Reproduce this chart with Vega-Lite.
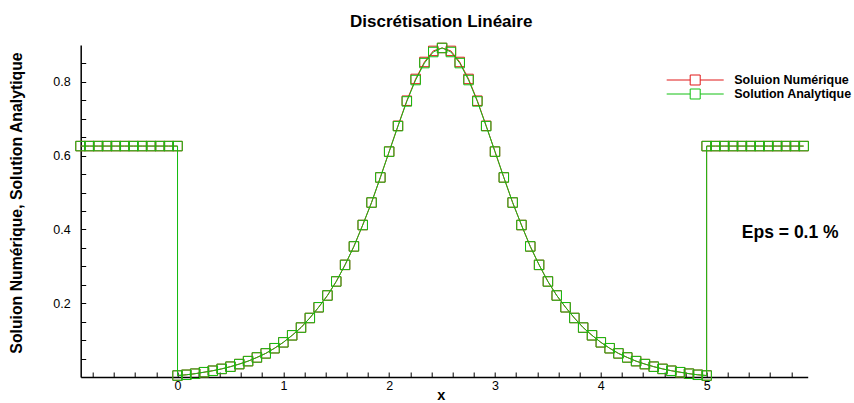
{
  "$schema": "https://vega.github.io/schema/vega-lite/v6.json",
  "width": 727,
  "height": 332,
  "autosize": {"type": "none"},
  "padding": {"left": 80.7, "top": 45, "right": 46.3, "bottom": 26},
  "background": "white",
  "title": {"text": "Discrétisation Linéaire", "font": "Liberation Sans", "fontSize": 17, "fontWeight": "bold", "color": "black", "anchor": "middle", "offset": 10, "dx": -3},
  "datasets": {
    "numerique": [
      {"i":0,"x":-0.9167,"y":0.626},{"i":1,"x":-0.8333,"y":0.626},{"i":2,"x":-0.75,"y":0.626},{"i":3,"x":-0.6667,"y":0.626},{"i":4,"x":-0.5833,"y":0.626},{"i":5,"x":-0.5,"y":0.626},{"i":6,"x":-0.4167,"y":0.626},{"i":7,"x":-0.3333,"y":0.626},{"i":8,"x":-0.25,"y":0.626},{"i":9,"x":-0.1667,"y":0.626},{"i":10,"x":-0.0833,"y":0.626},{"i":11,"x":0,"y":0.626},
      {"i":12,"x":0,"y":0.004},{"i":13,"x":0.0833,"y":0.006},{"i":14,"x":0.1667,"y":0.009},{"i":15,"x":0.25,"y":0.013},{"i":16,"x":0.3333,"y":0.017},{"i":17,"x":0.4167,"y":0.022},{"i":18,"x":0.5,"y":0.028},{"i":19,"x":0.5833,"y":0.035},{"i":20,"x":0.6667,"y":0.043},{"i":21,"x":0.75,"y":0.053},{"i":22,"x":0.8333,"y":0.064},{"i":23,"x":0.9167,"y":0.078},{"i":24,"x":1,"y":0.094},{"i":25,"x":1.0833,"y":0.113},{"i":26,"x":1.1667,"y":0.134},{"i":27,"x":1.25,"y":0.16},{"i":28,"x":1.3333,"y":0.189},{"i":29,"x":1.4167,"y":0.221},{"i":30,"x":1.5,"y":0.259},{"i":31,"x":1.5833,"y":0.304},{"i":32,"x":1.6667,"y":0.354},{"i":33,"x":1.75,"y":0.412},{"i":34,"x":1.8333,"y":0.473},{"i":35,"x":1.9167,"y":0.541},{"i":36,"x":2,"y":0.611},{"i":37,"x":2.0833,"y":0.681},{"i":38,"x":2.1667,"y":0.749},{"i":39,"x":2.25,"y":0.808},{"i":40,"x":2.3333,"y":0.854},{"i":41,"x":2.4167,"y":0.884},{"i":42,"x":2.5,"y":0.892},{"i":43,"x":2.5833,"y":0.884},{"i":44,"x":2.6667,"y":0.854},{"i":45,"x":2.75,"y":0.808},{"i":46,"x":2.8333,"y":0.749},{"i":47,"x":2.9167,"y":0.681},{"i":48,"x":3,"y":0.611},{"i":49,"x":3.0833,"y":0.541},{"i":50,"x":3.1667,"y":0.473},{"i":51,"x":3.25,"y":0.412},{"i":52,"x":3.3333,"y":0.354},{"i":53,"x":3.4167,"y":0.304},{"i":54,"x":3.5,"y":0.259},{"i":55,"x":3.5833,"y":0.221},{"i":56,"x":3.6667,"y":0.189},{"i":57,"x":3.75,"y":0.16},{"i":58,"x":3.8333,"y":0.134},{"i":59,"x":3.9167,"y":0.113},{"i":60,"x":4,"y":0.094},{"i":61,"x":4.0833,"y":0.078},{"i":62,"x":4.1667,"y":0.064},{"i":63,"x":4.25,"y":0.053},{"i":64,"x":4.3333,"y":0.043},{"i":65,"x":4.4167,"y":0.035},{"i":66,"x":4.5,"y":0.028},{"i":67,"x":4.5833,"y":0.022},{"i":68,"x":4.6667,"y":0.017},{"i":69,"x":4.75,"y":0.013},{"i":70,"x":4.8333,"y":0.009},{"i":71,"x":4.9167,"y":0.006},{"i":72,"x":5,"y":0.004},
      {"i":73,"x":5,"y":0.626},{"i":74,"x":5.0833,"y":0.626},{"i":75,"x":5.1667,"y":0.626},{"i":76,"x":5.25,"y":0.626},{"i":77,"x":5.3333,"y":0.626},{"i":78,"x":5.4167,"y":0.626},{"i":79,"x":5.5,"y":0.626},{"i":80,"x":5.5833,"y":0.626},{"i":81,"x":5.6667,"y":0.626},{"i":82,"x":5.75,"y":0.626},{"i":83,"x":5.8333,"y":0.626},{"i":84,"x":5.9167,"y":0.626}
    ],
    "analytique": [
      {"i":0,"x":-0.9167,"y":0.626},{"i":1,"x":-0.8333,"y":0.626},{"i":2,"x":-0.75,"y":0.626},{"i":3,"x":-0.6667,"y":0.626},{"i":4,"x":-0.5833,"y":0.626},{"i":5,"x":-0.5,"y":0.626},{"i":6,"x":-0.4167,"y":0.626},{"i":7,"x":-0.3333,"y":0.626},{"i":8,"x":-0.25,"y":0.626},{"i":9,"x":-0.1667,"y":0.626},{"i":10,"x":-0.0833,"y":0.626},{"i":11,"x":0,"y":0.626},
      {"i":12,"x":0,"y":0.004},{"i":13,"x":0.0833,"y":0.006},{"i":14,"x":0.1667,"y":0.009},{"i":15,"x":0.25,"y":0.013},{"i":16,"x":0.3333,"y":0.017},{"i":17,"x":0.4167,"y":0.022},{"i":18,"x":0.5,"y":0.028},{"i":19,"x":0.5833,"y":0.035},{"i":20,"x":0.6667,"y":0.043},{"i":21,"x":0.75,"y":0.053},{"i":22,"x":0.8333,"y":0.064},{"i":23,"x":0.9167,"y":0.078},{"i":24,"x":1,"y":0.094},{"i":25,"x":1.0833,"y":0.113},{"i":26,"x":1.1667,"y":0.134},{"i":27,"x":1.25,"y":0.16},{"i":28,"x":1.3333,"y":0.189},{"i":29,"x":1.4167,"y":0.221},{"i":30,"x":1.5,"y":0.259},{"i":31,"x":1.5833,"y":0.304},{"i":32,"x":1.6667,"y":0.354},{"i":33,"x":1.75,"y":0.412},{"i":34,"x":1.8333,"y":0.473},{"i":35,"x":1.9167,"y":0.541},{"i":36,"x":2,"y":0.611},{"i":37,"x":2.0833,"y":0.68},{"i":38,"x":2.1667,"y":0.747},{"i":39,"x":2.25,"y":0.805},{"i":40,"x":2.3333,"y":0.851},{"i":41,"x":2.4167,"y":0.881},{"i":42,"x":2.5,"y":0.892},{"i":43,"x":2.5833,"y":0.881},{"i":44,"x":2.6667,"y":0.851},{"i":45,"x":2.75,"y":0.805},{"i":46,"x":2.8333,"y":0.747},{"i":47,"x":2.9167,"y":0.68},{"i":48,"x":3,"y":0.611},{"i":49,"x":3.0833,"y":0.541},{"i":50,"x":3.1667,"y":0.473},{"i":51,"x":3.25,"y":0.412},{"i":52,"x":3.3333,"y":0.354},{"i":53,"x":3.4167,"y":0.304},{"i":54,"x":3.5,"y":0.259},{"i":55,"x":3.5833,"y":0.221},{"i":56,"x":3.6667,"y":0.189},{"i":57,"x":3.75,"y":0.16},{"i":58,"x":3.8333,"y":0.134},{"i":59,"x":3.9167,"y":0.113},{"i":60,"x":4,"y":0.094},{"i":61,"x":4.0833,"y":0.078},{"i":62,"x":4.1667,"y":0.064},{"i":63,"x":4.25,"y":0.053},{"i":64,"x":4.3333,"y":0.043},{"i":65,"x":4.4167,"y":0.035},{"i":66,"x":4.5,"y":0.028},{"i":67,"x":4.5833,"y":0.022},{"i":68,"x":4.6667,"y":0.017},{"i":69,"x":4.75,"y":0.013},{"i":70,"x":4.8333,"y":0.009},{"i":71,"x":4.9167,"y":0.006},{"i":72,"x":5,"y":0.004},
      {"i":73,"x":5,"y":0.626},{"i":74,"x":5.0833,"y":0.626},{"i":75,"x":5.1667,"y":0.626},{"i":76,"x":5.25,"y":0.626},{"i":77,"x":5.3333,"y":0.626},{"i":78,"x":5.4167,"y":0.626},{"i":79,"x":5.5,"y":0.626},{"i":80,"x":5.5833,"y":0.626},{"i":81,"x":5.6667,"y":0.626},{"i":82,"x":5.75,"y":0.626},{"i":83,"x":5.8333,"y":0.626},{"i":84,"x":5.9167,"y":0.626}
    ],
    "note": [{"label": "Eps = 0.1 %", "x": 5.79, "y": 0.391}]
  },
  "encoding": {
    "x": {
      "field": "x", "type": "quantitative",
      "scale": {"domain": [-0.915, 5.955], "nice": false, "zero": false},
      "axis": {
        "values": [-0.8,-0.6,-0.4,-0.2,0,0.2,0.4,0.6,0.8,1,1.2,1.4,1.6,1.8,2,2.2,2.4,2.6,2.8,3,3.2,3.4,3.6,3.8,4,4.2,4.4,4.6,4.8,5,5.2,5.4,5.6,5.8],
        "format": ".1~f",
        "labelColor": {"condition": {"test": "abs(datum.value - round(datum.value)) < 1e-6", "value": "black"}, "value": "transparent"},
        "labelFont": "Liberation Sans", "labelFontSize": 12.5,
        "labelPadding": 7, "labelFlush": false, "labelOverlap": false, "labelAlign": "center", "labelBound": false,
        "tickSize": -5, "tickColor": "black", "tickWidth": 1,
        "domainColor": "black", "domainWidth": 1.5, "grid": false,
        "title": "x", "titleFont": "Liberation Sans", "titleFontSize": 14.5, "titleFontWeight": "bold", "titleColor": "black",
        "titleX": 360, "titleY": 18.5, "titleBaseline": "middle", "titleAlign": "center",
        "encode": {"ticks": {"update": {"y2": {"signal": "abs(datum.value - round(datum.value)) < 1e-6 ? -8 : -5"}}}}
      }
    },
    "y": {
      "field": "y", "type": "quantitative",
      "scale": {"domain": [0, 0.9], "nice": false, "zero": true},
      "axis": {
        "values": [0.05,0.1,0.15,0.2,0.25,0.3,0.35,0.4,0.45,0.5,0.55,0.6,0.65,0.7,0.75,0.8,0.85],
        "format": ".2~f",
        "labelColor": {"condition": {"test": "abs(datum.value * 5 - round(datum.value * 5)) < 1e-6", "value": "black"}, "value": "transparent"},
        "labelFont": "Liberation Sans", "labelFontSize": 12.5,
        "labelPadding": 15.5, "labelFlush": false, "labelOverlap": false,
        "tickSize": -5, "tickColor": "black", "tickWidth": 1,
        "domainColor": "black", "domainWidth": 1.5, "grid": false,
        "title": "Soluion Numérique, Solution Analytique", "titleFont": "Liberation Sans", "titleFontSize": 15.8, "titleFontWeight": "bold", "titleColor": "black",
        "titleX": -63.7, "titleY": 157.5, "titleAngle": -90, "titleBaseline": "middle", "titleAlign": "center",
        "encode": {"ticks": {"update": {"x2": {"signal": "abs(datum.value * 5 - round(datum.value * 5)) < 1e-6 ? 8 : 5"}}}}
      }
    }
  },
  "layer": [
    {
      "data": {"name": "numerique"},
      "mark": {"type": "line", "strokeWidth": 1, "point": {"shape": "square", "filled": false, "size": 90, "strokeWidth": 1}},
      "encoding": {
        "order": {"field": "i", "type": "quantitative"},
        "color": {
          "datum": "Soluion Numérique", "type": "nominal",
          "scale": {"domain": ["Soluion Numérique", "Solution Analytique"], "range": ["#e01818", "#12c012"]},
          "legend": {
            "orient": "none", "legendX": 608, "legendY": 28.5, "title": null,
            "labelFont": "Liberation Sans", "labelFontSize": 12.5, "labelFontWeight": "bold", "labelColor": "black",
            "labelOffset": 32.5, "rowPadding": -4, "padding": 0,
            "symbolType": "M-4.75,0H-0.833M0.833,0H4.75M-0.833,-0.833H0.833V0.833H-0.833Z",
            "symbolSize": 144, "symbolStrokeWidth": 1,
            "encode": {"symbols": {"update": {"fill": {"value": "transparent"}, "strokeWidth": {"value": 1}}}}
          }
        }
      }
    },
    {
      "data": {"name": "analytique"},
      "mark": {"type": "line", "strokeWidth": 1, "point": {"shape": "square", "filled": false, "size": 90, "strokeWidth": 1}},
      "encoding": {
        "order": {"field": "i", "type": "quantitative"},
        "color": {"datum": "Solution Analytique", "type": "nominal"}
      }
    },
    {
      "data": {"name": "note"},
      "mark": {"type": "text", "font": "Liberation Sans", "fontSize": 17.5, "fontWeight": "bold", "color": "black"},
      "encoding": {
        "text": {"field": "label"}
      }
    }
  ],
  "config": {"view": {"stroke": null}}
}
